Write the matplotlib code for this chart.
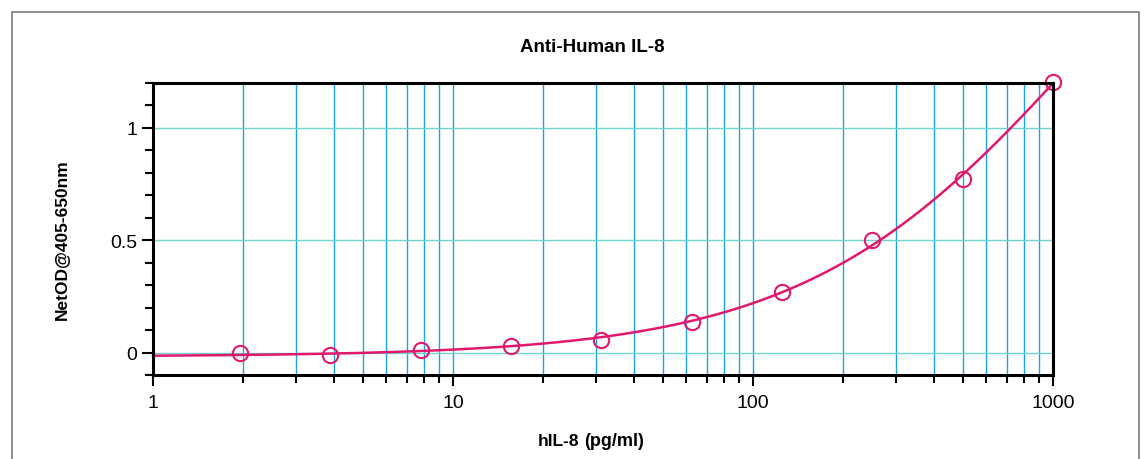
import numpy as np
import matplotlib
matplotlib.use("Agg")
import matplotlib.pyplot as plt
from matplotlib.ticker import LogLocator, MultipleLocator, FixedLocator, NullFormatter
from matplotlib.patches import Rectangle

plt.rcParams['font.family'] = ['Liberation Sans', 'DejaVu Sans']

# Data
conc = [1.95, 3.9, 7.8, 15.6, 31.25, 62.5, 125, 250, 500, 1000]
od = [0.000, -0.010, 0.013, 0.027, 0.054, 0.138, 0.268, 0.500, 0.772, 1.205]
title = "Anti-Human IL-8"
xlabel = "hIL-8"
xunit = "(pg/ml)"
ylabel = "NetOD@405-650nm"
xticks = [1, 10, 100, 1000]
xticklabels = ["1", "10", "100", "1000"]
yticks = [0, 0.5, 1]
yticklabels = ["0", "0.5", "1"]

# 4-parameter logistic fit (grid search on b, c; linear LS on a, d)
x = np.array(conc, float)
y = np.array(od, float)
best = None
for b in np.linspace(0.5, 3.0, 126):
    for lc in np.linspace(1.0, 5.0, 201):
        c = 10 ** lc
        g = 1.0 / (1.0 + (x / c) ** b)
        A = np.column_stack([g, 1 - g])
        coef, *_ = np.linalg.lstsq(A, y, rcond=None)
        r = np.sum((A @ coef - y) ** 2)
        if best is None or r < best[0]:
            best = (r, b, c, coef)
_, b, c, (a, d) = best
xs = np.logspace(0, 3, 400)
ys = d + (a - d) / (1 + (xs / c) ** b)

W, H = 1144, 460
fig = plt.figure(figsize=(W / 100, H / 100), dpi=100)
fig.patches.append(Rectangle((12 / W, -0.1), (1139 - 12) / W, 1.1 - 13 / H,
                             transform=fig.transFigure, fill=False,
                             edgecolor='#7a7a7a', linewidth=1.2))
ax = fig.add_axes([153 / W, (H - 376) / H, 900 / W, 292 / H])

ax.set_xscale('log')
ax.set_xlim(1, 1000)
ax.set_ylim(-0.1, 1.2)

# gridlines
for dec in [1, 10, 100]:
    for m in range(1, 10):
        v = dec * m
        if 1 < v < 1000:
            ax.axvline(v, color='#1aa3e0', lw=1.0, zorder=1)
for v in yticks:
    ax.axhline(v, color='#6fd3cf', lw=1.0, zorder=1)

ax.plot(xs, ys, color='#e0196e', lw=1.8, zorder=3, clip_on=False)
ax.plot(conc, od, 'o', mfc='none', mec='#e0196e', ms=11, mew=1.5, zorder=4, clip_on=False)

ax.xaxis.set_major_locator(FixedLocator(xticks))
ax.set_xticklabels(xticklabels)
ax.xaxis.set_minor_locator(LogLocator(base=10, subs=np.arange(2, 10)))
ax.xaxis.set_minor_formatter(NullFormatter())
ax.yaxis.set_major_locator(FixedLocator(yticks))
ax.set_yticklabels(yticklabels)
ax.yaxis.set_minor_locator(MultipleLocator(0.1))

ax.tick_params(axis='both', which='major', direction='out', length=8, width=1.5,
               labelsize=14, colors='black')
ax.tick_params(axis='both', which='minor', direction='out', length=6, width=1.5)
ax.tick_params(axis='x', which='major', pad=6)

for s in ax.spines.values():
    s.set_linewidth(2.2)
    s.set_color('black')
    s.set_zorder(5)

fig.text(592 / W, (H - 47) / H, title, fontsize=13.5, fontweight='bold',
         ha='center', va='center')
ax.set_ylabel(ylabel, fontsize=12.5, fontweight='bold')
ax.yaxis.set_label_coords((70 - 153) / 900, (376 - 240) / 292)

fig.text(579 / W, (H - 446) / H, xlabel,
         fontsize=12.5, fontweight='bold', ha='right', va='baseline')
fig.text(584 / W, (H - 446) / H, xunit,
         fontsize=13, fontweight='bold', ha='left', va='baseline')

fig.savefig("out.png", dpi=100)
